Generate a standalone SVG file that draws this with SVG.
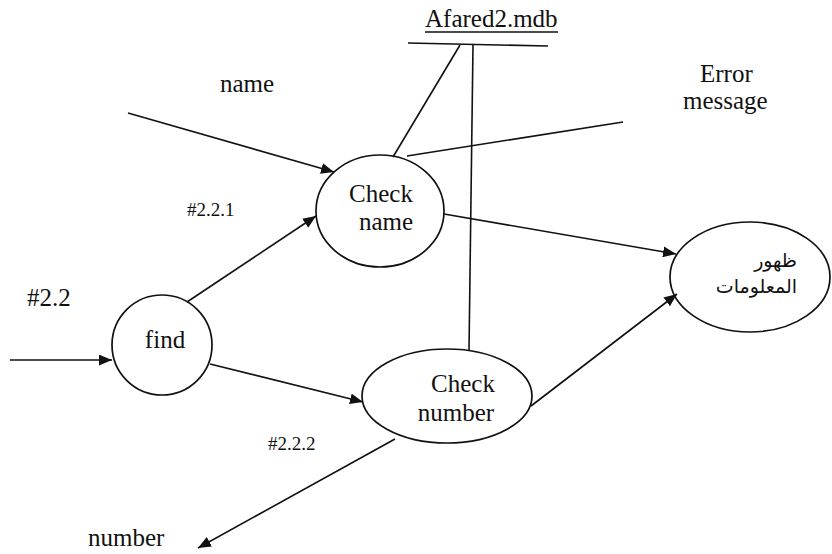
<svg xmlns="http://www.w3.org/2000/svg" width="832" height="554" viewBox="0 0 832 554">
<defs>
<style>
.n{fill:none;stroke:#111;stroke-width:1.7}
.c{fill:none;stroke:#111;stroke-width:1.6}
.t{font-family:"Liberation Serif","Times New Roman",serif;font-size:25px;fill:#111}
.s{font-family:"Liberation Serif","Times New Roman",serif;font-size:19px;fill:#111}
.a{font-family:"Liberation Sans","DejaVu Sans",sans-serif;font-size:19px;fill:#111}
</style>
<marker id="ar" viewBox="0 0 12 10" refX="12" refY="5" markerWidth="13" markerHeight="11" markerUnits="userSpaceOnUse" orient="auto">
<path d="M0,0 L12,5 L0,10 z" fill="#111"/>
</marker>
</defs>
<rect width="832" height="554" fill="#fff"/>
<g id="store">
<text class="t" x="425" y="27">Afared2.mdb</text>
<line x1="425" y1="32" x2="558" y2="32" stroke="#111" stroke-width="1.3"/>
<line class="c" x1="408" y1="43" x2="548" y2="46"/>
</g>
<g id="checkname">
<ellipse class="n" cx="380" cy="211" rx="64" ry="56"/>
<text class="t" x="381" y="202" text-anchor="middle">Check</text>
<text class="t" x="386" y="230" text-anchor="middle">name</text>
</g>
<g id="display">
<ellipse class="n" cx="750" cy="277" rx="80" ry="55"/>
<text class="a" x="797" y="267" text-anchor="end">ظهور</text>
<text class="a" x="797" y="293" text-anchor="end">المعلومات</text>
</g>
<g id="find">
<circle class="n" cx="162" cy="345" r="50"/>
<text class="t" x="165" y="348" text-anchor="middle">find</text>
</g>
<g id="checknumber">
<ellipse class="n" cx="447" cy="396" rx="85" ry="47"/>
<text class="t" x="463" y="392" text-anchor="middle">Check</text>
<text class="t" x="456" y="421" text-anchor="middle">number</text>
</g>
<g id="labels">
<text class="t" x="220" y="92">name</text>
<text class="t" x="700" y="82">Error</text>
<text class="t" x="683" y="109">message</text>
<text class="s" x="187" y="216">#2.2.1</text>
<text class="t" x="27" y="306">#2.2</text>
<text class="s" x="268" y="450">#2.2.2</text>
<text class="t" x="88" y="546">number</text>
</g>
<g id="connectors">
<line class="c" x1="460" y1="45" x2="393" y2="157"/>
<line class="c" x1="473" y1="45" x2="469" y2="351"/>
<line class="c" x1="407" y1="156" x2="623" y2="122"/>
<line class="c" x1="128" y1="113" x2="334" y2="172" marker-end="url(#ar)"/>
<line class="c" x1="187" y1="302" x2="316" y2="216" marker-end="url(#ar)"/>
<line class="c" x1="210" y1="364" x2="363" y2="402" marker-end="url(#ar)"/>
<line class="c" x1="10" y1="360" x2="112" y2="360" marker-end="url(#ar)"/>
<line class="c" x1="444" y1="214" x2="676" y2="254" marker-end="url(#ar)"/>
<line class="c" x1="531" y1="406" x2="677" y2="294" marker-end="url(#ar)"/>
<line class="c" x1="395" y1="439" x2="198" y2="548" marker-end="url(#ar)"/>
</g>
</svg>
